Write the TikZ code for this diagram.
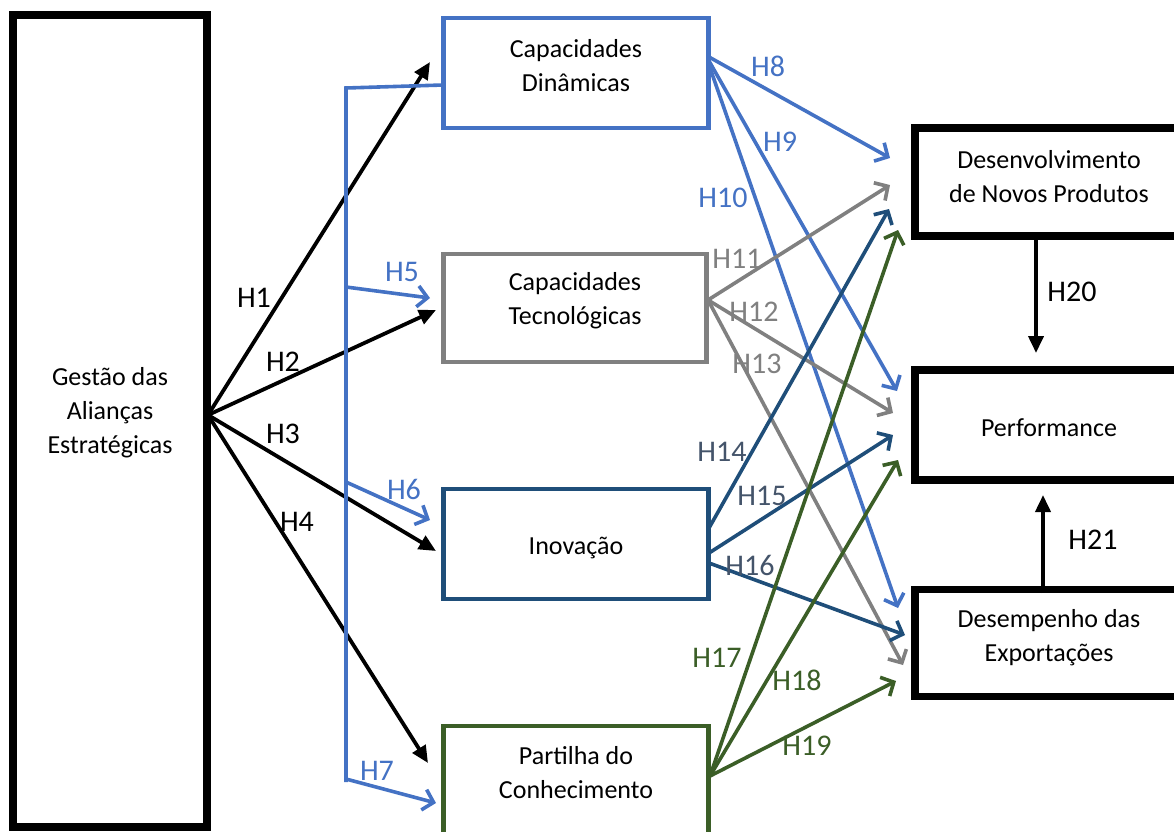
\documentclass[tikz,border=0pt]{standalone}
\usepackage{fontspec}
\setmainfont{Carlito}
\usetikzlibrary{arrows.meta}
\definecolor{cblue}{HTML}{4472C4}
\definecolor{cgray}{HTML}{808080}
\definecolor{cdark}{HTML}{1F4E79}
\definecolor{cgreen}{HTML}{3B5E27}
\definecolor{ctxtdark}{HTML}{44546A}
\begin{document}
\begin{tikzpicture}[x=1pt,y=-1pt,
  box/.style={draw,rectangle,inner sep=0pt},
  blackbox/.style={box,line width=7.5pt},
  colbox/.style={box,line width=4.8pt},
  txt/.style={align=center,inner sep=0pt,font=\fontsize{26}{34}\selectfont},
  blk/.style={line width=3.8pt,-{Triangle[length=17pt,width=15pt]}},
  opn/.style={line width=3.6pt,-{Straight Barb[length=10pt,width=21pt,line width=3.6pt]}},
  lab/.style={font=\fontsize{30}{34}\selectfont,inner sep=0pt}]
\useasboundingbox (0,0) rectangle (1174,831);
% boxes
\node[blackbox,minimum width=194pt,minimum height=812pt] (G) at (110,421) {};
\node[colbox,draw=cblue,minimum width=265pt,minimum height=110pt] (CD) at (576,73) {};
\node[colbox,draw=cgray,minimum width=263pt,minimum height=108pt] (CT) at (575,308) {};
\node[colbox,draw=cdark,minimum width=265pt,minimum height=110pt] (IN) at (576,544) {};
\node[colbox,draw=cgreen,minimum width=265pt,minimum height=150pt] (PC) at (576,801) {};
\node[blackbox,minimum width=270pt,minimum height=108pt] (DN) at (1050,182) {};
\node[blackbox,minimum width=270pt,minimum height=110pt] (PF) at (1050,425) {};
\node[blackbox,minimum width=270pt,minimum height=107pt] (DE) at (1050,643) {};
% texts
\node[txt] (Gt) at (110,413) {Gestão das\\Alianças\\Estratégicas};
\node[txt] (CDt) at (576,66) {Capacidades\\Dinâmicas};
\node[txt] (CTt) at (575,301) {Capacidades\\Tecnológicas};
\node[txt] (INt) at (576,548) {Inovação};
\node[txt] (PCt) at (576,773) {Partilha do\\Conhecimento};
\node[txt] (DNt) at (1049,177) {Desenvolvimento\\de Novos Produtos};
\node[txt] (PFt) at (1049,428) {Performance};
\node[txt] (DEt) at (1049,638) {Desempenho das\\Exportações};
% coordinates
\coordinate (g0) at (208,415);
\coordinate (e1) at (430,62);
\coordinate (e2) at (436,310);
\coordinate (e3) at (436,551);
\coordinate (e4) at (428,763);
\coordinate (bt) at (346,88);
\coordinate (bb) at (346,782);
\coordinate (cdl) at (443,85);
\coordinate (b5) at (346,287);
\coordinate (b6) at (346,482);
\coordinate (b7) at (346,779);
\coordinate (t5) at (430,298);
\coordinate (t6) at (430,520);
\coordinate (t7) at (436,803);
% black arrows
\draw[blk] (g0) -- (e1);
\draw[blk] (g0) -- (e2);
\draw[blk] (g0) -- (e3);
\draw[blk] (g0) -- (e4);
% blue bracket
\draw[cblue,line width=3.6pt] (cdl) -- (bt) -- (bb);
\draw[cblue,opn] (b5) -- (t5);
\draw[cblue,opn] (b6) -- (t6);
\draw[cblue,opn] (b7) -- (t7);
% from CD
\coordinate (cd1) at (709,57);
\coordinate (cd2) at (709,61);
\coordinate (cd3) at (709,65);
\coordinate (d8) at (890,158);
\coordinate (d9) at (897,391);
\coordinate (d10) at (898,608);
\draw[cblue,opn] (cd1) -- (d8);
\draw[cblue,opn] (cd2) -- (d9);
\draw[cblue,opn] (cd3) -- (d10);
% from CT
\coordinate (ct0) at (708,300);
\coordinate (d11) at (890,185);
\coordinate (d12) at (893,413);
\coordinate (d13) at (903,665);
\draw[cgray,opn] (ct0) -- (d11);
\draw[cgray,opn] (ct0) -- (d12);
\draw[cgray,opn] (ct0) -- (d13);
% from IN
\coordinate (in1) at (709,528);
\coordinate (in2) at (709,553);
\coordinate (in3) at (709,563);
\coordinate (d14) at (889,209);
\coordinate (d15) at (893,435);
\coordinate (d16) at (905,635);
\draw[cdark,opn] (in1) -- (d14);
\draw[cdark,opn] (in2) -- (d15);
\draw[cdark,opn] (in3) -- (d16);
% from PC
\coordinate (pc0) at (710,776);
\coordinate (d17) at (898,230);
\coordinate (d18) at (898,460);
\coordinate (d19) at (896,681);
\draw[cgreen,opn] (pc0) -- (d17);
\draw[cgreen,opn] (pc0) -- (d18);
\draw[cgreen,opn] (pc0) -- (d19);
% H20 H21
\coordinate (h20a) at (1036,240);
\coordinate (h20b) at (1036,353);
\coordinate (h21a) at (1043,593);
\coordinate (h21b) at (1043,495);
\draw[blk] (h20a) -- (h20b);
\draw[blk] (h21a) -- (h21b);
% labels
\node[lab] (L1) at (254,298) {H1};
\node[lab] (L2) at (283,362) {H2};
\node[lab] (L3) at (283,434) {H3};
\node[lab] (L4) at (297,522) {H4};
\node[lab,text=cblue] (L5) at (402,272) {H5};
\node[lab,text=cblue] (L6) at (404,489) {H6};
\node[lab,text=cblue] (L7) at (377,771) {H7};
\node[lab,text=cblue] (L8) at (768,66) {H8};
\node[lab,text=cblue] (L9) at (780,142) {H9};
\node[lab,text=cblue] (L10) at (723,198) {H10};
\node[lab,text=cgray] (L11) at (737,259) {H11};
\node[lab,text=cgray] (L12) at (754,312) {H12};
\node[lab,text=cgray] (L13) at (757,364) {H13};
\node[lab,text=ctxtdark] (L14) at (722,452) {H14};
\node[lab,text=ctxtdark] (L15) at (762,496) {H15};
\node[lab,text=ctxtdark] (L16) at (750,565) {H16};
\node[lab,text=cgreen] (L17) at (717,658) {H17};
\node[lab,text=cgreen] (L18) at (797,680) {H18};
\node[lab,text=cgreen] (L19) at (807,746) {H19};
\node[lab] (L20) at (1072,292) {H20};
\node[lab] (L21) at (1093,540) {H21};
\end{tikzpicture}
\end{document}
